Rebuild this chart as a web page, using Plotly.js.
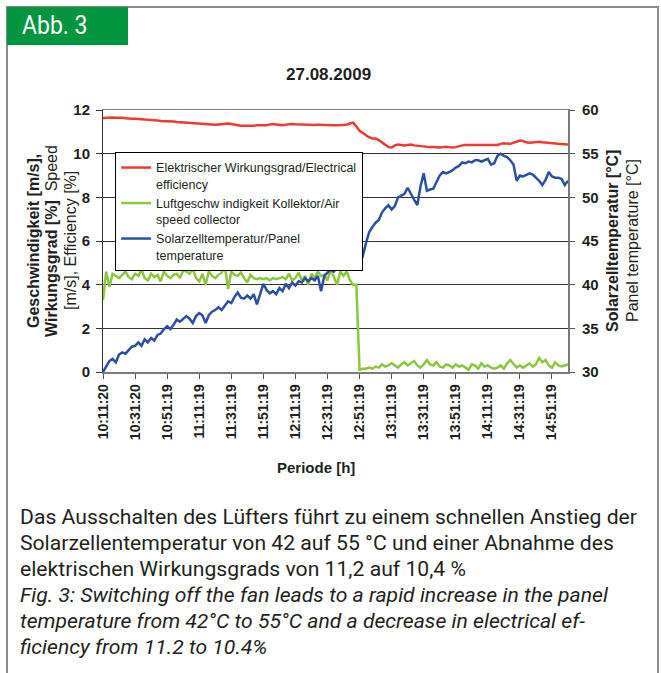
<!DOCTYPE html>
<html>
<head>
<meta charset="utf-8">
<script src="https://cdn.plot.ly/plotly-3.0.1.min.js"></script>
<style>
  html, body { margin:0; padding:0; background:#fff; }
  #wrap { position:relative; width:661px; height:673px; overflow:hidden; }
  #chart { position:absolute; left:0; top:0; width:661px; height:673px; }
  .ln { position:absolute; background:#8a8a8a; }
  #abb { position:absolute; left:7px; top:7px; width:121px; height:38px; background:#00963f; color:#fff;
         font-family:'Roboto','Liberation Sans',sans-serif; font-size:25px; line-height:38px; }
  #abb span { position:absolute; left:15px; top:0; transform:scaleX(0.92); transform-origin:0 0; }
  #cap { position:absolute; left:20px; top:504px; white-space:nowrap; color:#231f20;
         font-family:'Roboto','Liberation Sans',sans-serif; font-size:20px; line-height:26px;
         transform-origin:0 0; }
</style>
</head>
<body>
<div id="wrap">
  <div id="chart"></div>
  <div class="ln" style="left:6px; top:6px; width:652px; height:1.5px;"></div>
  <div class="ln" style="left:6px; top:6px; width:1.5px; height:667px;"></div>
  <div class="ln" style="left:657px; top:6px; width:1.5px; height:667px;"></div>
  <div id="abb"><span>Abb. 3</span></div>
  <div id="cap"><span id="l1">Das Ausschalten des Lüfters führt zu einem schnellen Anstieg der</span><br>Solarzellentemperatur von 42 auf 55 °C und einer Abnahme des<br>elektrischen Wirkungsgrads von 11,2 auf 10,4 %<br><i>Fig. 3: Switching off the fan leads to a rapid increase in the panel<br>temperature from 42°C to 55°C and a decrease in electrical ef-<br>ficiency from 11.2 to 10.4%</i></div>
</div>
<script>
var startTime = '10:11:20';
var stepMinutes = 2;

var efficiency = [
  11.63, 11.65, 11.66, 11.66, 11.65, 11.66, 11.64, 11.62, 11.60, 11.60,
  11.60, 11.59, 11.58, 11.58, 11.57, 11.57, 11.55, 11.52, 11.50, 11.50,
  11.48, 11.47, 11.47, 11.45, 11.44, 11.44, 11.42, 11.40, 11.40, 11.38,
  11.36, 11.35, 11.34, 11.34, 11.32, 11.32, 11.34, 11.36, 11.37, 11.38,
  11.36, 11.33, 11.30, 11.28, 11.28, 11.27, 11.27, 11.28, 11.30, 11.30,
  11.28, 11.30, 11.34, 11.36, 11.34, 11.32, 11.30, 11.33, 11.36, 11.36,
  11.35, 11.34, 11.32, 11.32, 11.30, 11.30, 11.31, 11.33, 11.32, 11.30,
  11.30, 11.31, 11.30, 11.30, 11.31, 11.30, 11.32, 11.38, 11.42, 11.25,
  11.05, 10.95, 10.85, 10.75, 10.70, 10.70, 10.62, 10.50, 10.40, 10.30,
  10.28, 10.38, 10.42, 10.40, 10.38, 10.40, 10.42, 10.38, 10.36, 10.35,
  10.33, 10.30, 10.30, 10.30, 10.28, 10.28, 10.30, 10.32, 10.30, 10.28,
  10.30, 10.35, 10.38, 10.40, 10.40, 10.40, 10.40, 10.40, 10.40, 10.40,
  10.40, 10.42, 10.42, 10.40, 10.45, 10.48, 10.46, 10.45, 10.50, 10.55,
  10.60, 10.58, 10.52, 10.50, 10.52, 10.55, 10.55, 10.52, 10.50, 10.50,
  10.48, 10.45, 10.45, 10.44, 10.42, 10.42
];

var airSpeed = [
  3.30, 4.60, 3.90, 4.50, 4.40, 4.30, 4.45, 4.60, 4.35, 4.25,
  4.50, 4.40, 4.70, 4.30, 4.20, 4.50, 4.35, 4.45, 4.15, 4.60,
  4.40, 4.30, 4.45, 4.50, 4.30, 4.65, 4.60, 4.50, 4.75, 4.30,
  4.15, 4.50, 4.00, 4.60, 4.40, 4.30, 4.45, 4.55, 4.85, 3.80,
  4.60, 4.45, 4.40, 4.55, 4.30, 4.10, 4.45, 4.30, 4.25, 4.30,
  4.25, 4.30, 4.20, 4.30, 4.25, 4.30, 4.35, 4.25, 4.50, 4.20,
  4.30, 4.55, 4.20, 4.40, 4.00, 4.50, 4.30, 4.60, 4.40, 4.45,
  4.20, 4.70, 4.30, 4.00, 4.60, 4.40, 4.60, 4.20, 4.00, 4.00,
  0.10, 0.15, 0.15, 0.20, 0.15, 0.25, 0.20, 0.35, 0.25, 0.30,
  0.40, 0.30, 0.20, 0.35, 0.45, 0.30, 0.40, 0.50, 0.30, 0.20,
  0.35, 0.55, 0.35, 0.30, 0.45, 0.25, 0.20, 0.35, 0.30, 0.20,
  0.35, 0.25, 0.30, 0.20, 0.10, 0.35, 0.30, 0.15, 0.40, 0.25,
  0.30, 0.20, 0.15, 0.20, 0.30, 0.15, 0.40, 0.55, 0.35, 0.20,
  0.30, 0.20, 0.30, 0.40, 0.25, 0.35, 0.65, 0.45, 0.55, 0.30,
  0.20, 0.45, 0.30, 0.25, 0.30, 0.35
];

var panelTemp = [
  30.0, 30.6, 31.25, 31.5, 31.1, 32.0, 32.25, 32.1, 32.5, 32.9,
  33.0, 33.4, 33.0, 33.75, 33.4, 33.9, 33.6, 34.25, 34.4, 34.9,
  35.25, 34.9, 35.4, 36.0, 35.75, 36.1, 36.4, 36.1, 35.6, 36.4,
  36.75, 36.5, 35.6, 36.5, 36.9, 37.1, 37.4, 37.1, 37.6, 38.1,
  37.9, 38.6, 39.1, 38.5, 38.4, 38.75, 38.4, 38.9, 37.75, 38.9,
  40.1, 39.4, 39.0, 39.25, 38.9, 39.6, 39.25, 40.1, 39.6, 40.25,
  39.9, 40.4, 40.25, 40.75, 40.4, 40.75, 40.5, 41.0, 39.25, 41.0,
  41.4, 41.75, 41.5, 42.1, 42.5, 42.1, 42.25, 42.0, 42.4, 42.1,
  42.4, 43.25, 44.75, 46.0, 46.6, 47.1, 47.4, 48.25, 48.75, 49.1,
  48.6, 49.0, 50.0, 50.25, 50.4, 51.1, 50.5, 49.75, 49.1, 51.25,
  52.75, 50.75, 50.9, 51.0, 51.75, 52.5, 52.9, 52.75, 52.9, 53.1,
  53.4, 53.6, 54.0, 53.9, 54.1, 54.0, 54.25, 54.25, 54.1, 54.25,
  54.4, 53.75, 53.9, 54.75, 55.0, 54.75, 54.6, 54.25, 53.75, 51.9,
  52.5, 52.4, 52.6, 52.75, 52.6, 52.25, 51.9, 51.4, 52.0, 52.9,
  52.4, 52.25, 52.25, 52.1, 51.4, 51.9
];

var tickTimes = ['10:11:20','10:31:20','10:51:19','11:11:19','11:31:19','11:51:19','12:11:19',
                 '12:31:19','12:51:19','13:11:19','13:31:19','13:51:19','14:11:19','14:31:19','14:51:19'];
var rangeEnd = '15:01:20';
var day = '2009-08-27';

var seriesNames = [
  'Elektrischer Wirkungsgrad/Electrical<br>efficiency',
  'Luftgeschw indigkeit Kollektor/Air<br>speed collector',
  'Solarzelltemperatur/Panel<br>temperature'
];
var seriesColors = ['#ee3a32', '#8cc63f', '#2d4fa3'];

// ---- build time axis ----
function pad(n){ return (n < 10 ? '0' : '') + n; }
function toSec(t){ var p = t.split(':'); return (+p[0])*3600 + (+p[1])*60 + (+p[2]); }
function fromSec(s){ var h = Math.floor(s/3600), m = Math.floor((s%3600)/60), ss = s%60;
  return day + ' ' + pad(h) + ':' + pad(m) + ':' + pad(ss); }
var t0 = toSec(startTime);
var times = efficiency.map(function(_, i){ return fromSec(t0 + i*stepMinutes*60); });

var FONT = 'Arial, "Liberation Sans", sans-serif';

var traces = [
  {x: times, y: efficiency, name: seriesNames[0], type:'scatter', mode:'lines',
   line:{color: seriesColors[0], width:2.5}, yaxis:'y'},
  {x: times, y: airSpeed, name: seriesNames[1], type:'scatter', mode:'lines',
   line:{color: seriesColors[1], width:2.5}, yaxis:'y'},
  {x: times, y: panelTemp, name: seriesNames[2], type:'scatter', mode:'lines',
   line:{color: seriesColors[2], width:2.5}, yaxis:'y2'}
];

var layout = {
  width:661, height:673,
  margin:{l:103, r:93, t:110, b:301, pad:0},
  paper_bgcolor:'#fff', plot_bgcolor:'#fff',
  font:{family:FONT, color:'#231f20'},
  showlegend:true,
  legend:{x:0.026, y:0.84, xanchor:'left', yanchor:'top', bgcolor:'#fff', bordercolor:'#000', borderwidth:1,
          font:{family:FONT, size:12.5, color:'#231f20'}, valign:'top', itemwidth:30, tracegroupgap:2},
  xaxis:{type:'date', range:[day+' '+startTime, day+' '+rangeEnd],
         tickmode:'array', tickvals: tickTimes.map(function(t){return day+' '+t;}), ticktext: tickTimes,
         tickangle:-90, ticks:'outside', ticklen:5, tickcolor:'#555', tickwidth:1,
         tickfont:{family:FONT, size:14, color:'#231f20', weight:'bold'},
         showgrid:false, showline:true, linecolor:'#7a7a7a', linewidth:1.5, mirror:true, zeroline:false},
  yaxis:{range:[0,12], dtick:2, tick0:0, ticks:'outside', ticklen:6, tickcolor:'#333',
         tickfont:{family:FONT, size:15, color:'#231f20', weight:'bold'}, ticklabelstandoff:3,
         showgrid:true, gridcolor:'#333', gridwidth:1, showline:true, linecolor:'#333', linewidth:1, zeroline:false},
  yaxis2:{range:[30,60], dtick:5, tick0:30, overlaying:'y', side:'right', ticks:'outside', ticklen:5, tickcolor:'#555',
          tickfont:{family:FONT, size:15, color:'#231f20', weight:'bold'}, ticklabelstandoff:4,
          showgrid:false, showline:true, linecolor:'#7a7a7a', linewidth:2, zeroline:false},
  annotations:[
    {text:'<b>27.08.2009</b>', xref:'paper', yref:'paper', x:0.484, y:1.137, showarrow:false,
     font:{size:17, family:FONT, color:'#231f20'}, xanchor:'center', yanchor:'middle'},
    {text:'<b>Periode [h]</b>', xref:'paper', yref:'paper', x:0.458, y:-0.3626, showarrow:false,
     font:{size:15, family:FONT, color:'#231f20'}, xanchor:'center', yanchor:'middle'},
    {text:'<b>Geschwindigkeit [m/s],</b>', xref:'paper', yref:'paper', x:(33-103)/465, y:0.5, showarrow:false,
     textangle:-90, font:{size:16, family:FONT, color:'#231f20'}, xanchor:'center', yanchor:'middle'},
    {text:'<b>Wirkungsgrad [%]</b>  Speed', xref:'paper', yref:'paper', x:(51-103)/465, y:0.5, showarrow:false,
     textangle:-90, font:{size:16, family:FONT, color:'#231f20'}, xanchor:'center', yanchor:'middle'},
    {text:'[m/s], Efficiency [%]', xref:'paper', yref:'paper', x:(70-103)/465, y:0.5, showarrow:false,
     textangle:-90, font:{size:16, family:FONT, color:'#231f20'}, xanchor:'center', yanchor:'middle'},
    {text:'<b>Solarzelltemperatur [°C]</b>', xref:'paper', yref:'paper', x:(612-103)/465, y:0.5, showarrow:false,
     textangle:-90, font:{size:16, family:FONT, color:'#231f20'}, xanchor:'center', yanchor:'middle'},
    {text:'Panel temperature [°C]', xref:'paper', yref:'paper', x:(632-103)/465, y:0.5, showarrow:false,
     textangle:-90, font:{size:16, family:FONT, color:'#231f20'}, xanchor:'center', yanchor:'middle'}
  ]
};

Plotly.newPlot('chart', traces, layout, {staticPlot:true, displayModeBar:false});

// fit caption width to the reference line length
(function(){
  var l1 = document.getElementById('l1');
  var w = l1.getBoundingClientRect().width;
  var target = 617;
  if (w > 0) document.getElementById('cap').style.transform = 'scaleX(' + (target / w) + ')';
})();
</script>
</body>
</html>
